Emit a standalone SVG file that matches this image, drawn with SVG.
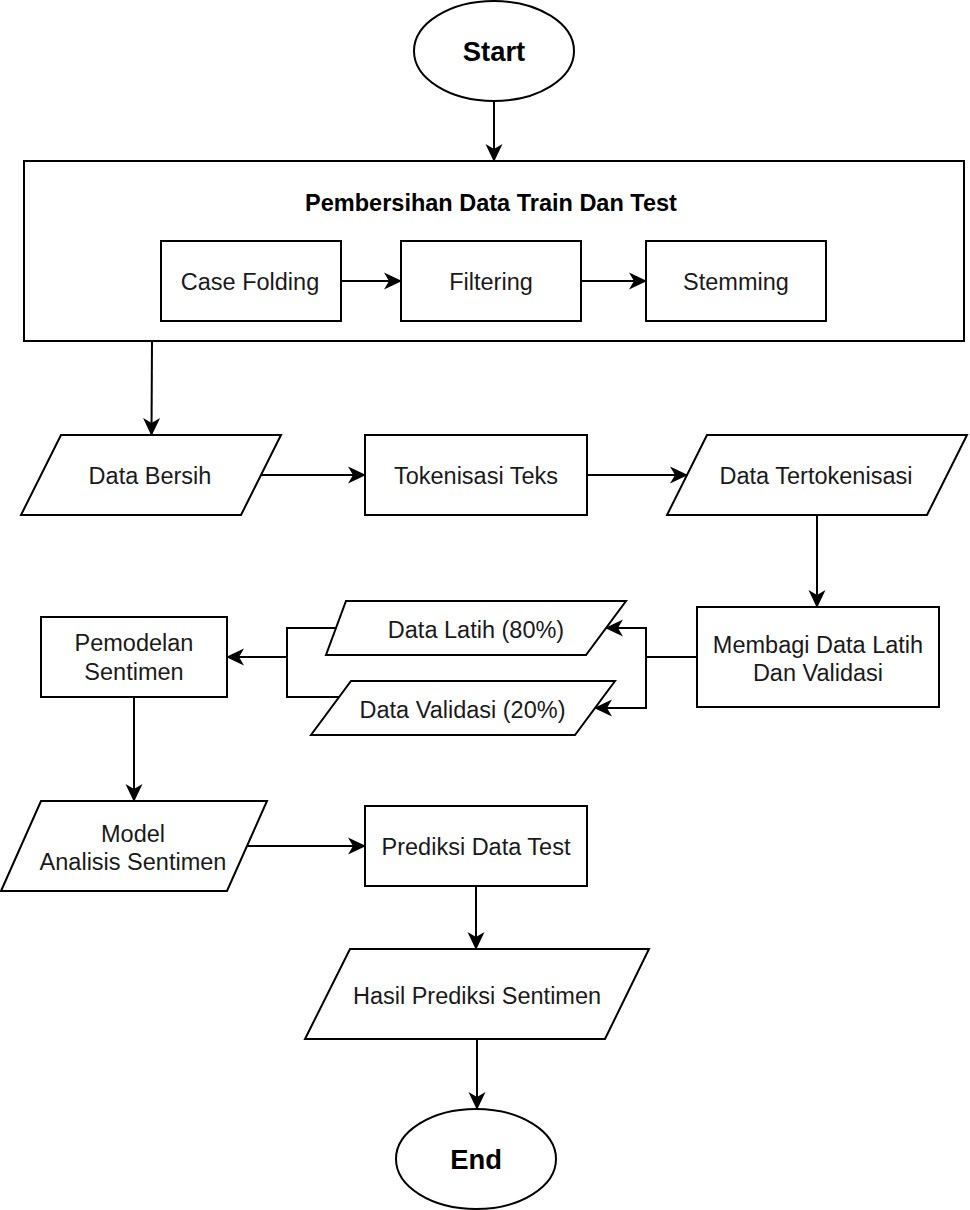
<svg xmlns="http://www.w3.org/2000/svg" width="970" height="1210" viewBox="0 0 970 1210">
<style>
.s{fill:#fff;stroke:#000;stroke-width:2}
.t{font-family:"Liberation Sans",Arial,sans-serif;font-size:23.5px;fill:#1a1a1a;text-anchor:middle}
.b{font-family:"Liberation Sans",Arial,sans-serif;font-weight:bold;fill:#000;text-anchor:middle}
.c{fill:none;stroke:#000;stroke-width:2}
</style>
<defs>
<marker id="a" markerUnits="userSpaceOnUse" markerWidth="18" markerHeight="18" viewBox="0 0 18 18" refX="17" refY="9" orient="auto">
<path d="M0,0.5 L18,9 L0,17.5 L5,9 Z" fill="#000"/>
</marker>
</defs>
<rect width="970" height="1210" fill="#fff"/>
<g id="start"><ellipse class="s" cx="494" cy="51" rx="80" ry="50"/><text class="b" x="494" y="61" font-size="27.4">Start</text></g>
<g id="pembersihan"><rect class="s" x="24" y="161" width="940" height="180"/><text class="b" x="491" y="211" font-size="23.5">Pembersihan Data Train Dan Test</text></g>
<g id="casefolding"><rect class="s" x="161" y="241" width="180" height="80"/><text class="t" x="250" y="290">Case Folding</text></g>
<g id="filtering"><rect class="s" x="401" y="241" width="180" height="80"/><text class="t" x="491" y="290">Filtering</text></g>
<g id="stemming"><rect class="s" x="646" y="241" width="180" height="80"/><text class="t" x="736" y="290">Stemming</text></g>
<g id="databersih"><polygon class="s" points="61,435 281,435 241,515 21,515"/><text class="t" x="150" y="484">Data Bersih</text></g>
<g id="tokenisasi"><rect class="s" x="365" y="435" width="222" height="80"/><text class="t" x="476" y="484">Tokenisasi Teks</text></g>
<g id="tertokenisasi"><polygon class="s" points="707,435 967,435 927,515 667,515"/><text class="t" x="816" y="484">Data Tertokenisasi</text></g>
<g id="membagi"><rect class="s" x="697" y="607" width="242" height="100"/><text class="t" x="818" y="652.5">Membagi Data Latih</text><text class="t" x="818" y="681">Dan Validasi</text></g>
<g id="datalatih"><polygon class="s" points="346,601 626,601 586,655 326,655"/><text class="t" x="476" y="637.5">Data Latih (80%)</text></g>
<g id="datavalidasi"><polygon class="s" points="351,681 615,681 575,735 311,735"/><text class="t" x="462.5" y="718">Data Validasi (20%)</text></g>
<g id="pemodelan"><rect class="s" x="41" y="617" width="186" height="80"/><text class="t" x="134" y="651">Pemodelan</text><text class="t" x="134" y="679.5">Sentimen</text></g>
<g id="model"><polygon class="s" points="41,801 267,801 227,891 1,891"/><text class="t" x="133" y="841.5">Model</text><text class="t" x="133" y="870">Analisis Sentimen</text></g>
<g id="prediksi"><rect class="s" x="365" y="806" width="222" height="80"/><text class="t" x="476" y="855">Prediksi Data Test</text></g>
<g id="hasil"><polygon class="s" points="350,949 649,949 605,1039 305,1039"/><text class="t" x="477" y="1004">Hasil Prediksi Sentimen</text></g>
<g id="end"><ellipse class="s" cx="476" cy="1159" rx="80" ry="50"/><text class="b" x="476" y="1169" font-size="27.4">End</text></g>
<g id="connectors" class="c">
<path class="c" d="M494,101 V161" marker-end="url(#a)"/>
<path class="c" d="M341,281 H401" marker-end="url(#a)"/>
<path class="c" d="M581,281 H646" marker-end="url(#a)"/>
<path class="c" d="M152,341 L151.5,435" marker-end="url(#a)"/>
<path class="c" d="M261,475 H365" marker-end="url(#a)"/>
<path class="c" d="M587,475 H687" marker-end="url(#a)"/>
<path class="c" d="M817,515 V607" marker-end="url(#a)"/>
<path class="c" d="M697,657 H646 V628 H606" marker-end="url(#a)"/>
<path class="c" d="M646,657 V708 H595" marker-end="url(#a)"/>
<path class="c" d="M336,628 H287 V657 H227" marker-end="url(#a)"/>
<path class="c" d="M339,697 H287 V657"/>
<path class="c" d="M134,697 V801" marker-end="url(#a)"/>
<path class="c" d="M247,846 H365" marker-end="url(#a)"/>
<path class="c" d="M476,886 V949" marker-end="url(#a)"/>
<path class="c" d="M477,1039 V1109" marker-end="url(#a)"/>
</g>
</svg>
